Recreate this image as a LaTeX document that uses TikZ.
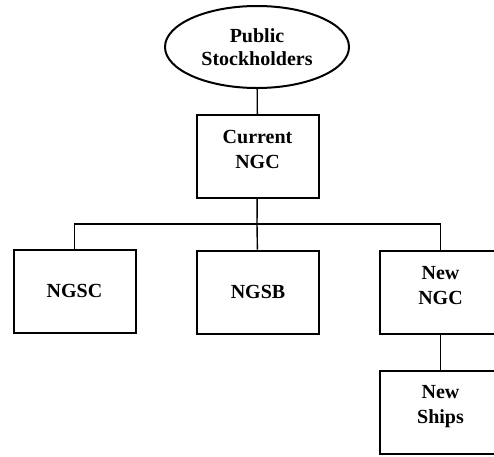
\documentclass[tikz,border=0pt]{standalone}
\usepackage{fontspec}
\setmainfont{Liberation Serif}
\usepackage{tikz}
\usetikzlibrary{shapes.geometric}

\begin{document}
\begin{tikzpicture}[x=1pt,y=1pt,yscale=-1,xscale=1,
  orgbox/.style={draw, line width=2pt, minimum width=122pt, minimum height=83pt, align=center, font=\fontsize{20}{25}\selectfont\bfseries},
  twoline/.style={text depth=15pt},
  owner/.style={draw, ellipse, line width=2pt, minimum width=184pt, minimum height=82pt, align=center, font=\fontsize{20}{23}\selectfont\bfseries},
  tie/.style={line width=1.4pt}]
\clip (0,0) rectangle (494,456);

% Owner
\node [owner] (pub) at (257,47) {Public\\Stockholders};
% Holding company
\node [orgbox, twoline] (cngc) at (257.5,156.5) {Current\\NGC};
% Subsidiaries
\node [orgbox] (ngsc) at (74.5,291) {NGSC};
\node [orgbox] (ngsb) at (258,292) {NGSB};
\node [orgbox, twoline] (nngc) at (440.5,292.5) {New\\NGC};
\node [orgbox, twoline] (ships) at (440.5,412) {New\\Ships};

% Bus
\coordinate (bus) at (257,224);

% Connectors
\draw [tie] (pub) -- (cngc);
\draw [tie] (cngc) -- (bus);
\draw [tie] (ngsc) |- (bus) -| (nngc);
\draw [tie] (bus) -- (ngsb);
\draw [tie] (nngc) -- (ships);

\end{tikzpicture}
\end{document}
